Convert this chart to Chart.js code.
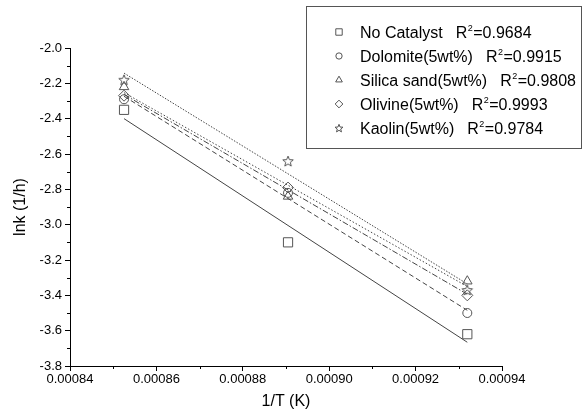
<!DOCTYPE html>
<html>
<head>
<meta charset="utf-8">
<script src="https://cdn.jsdelivr.net/npm/chart.js@4.4.1/dist/chart.umd.min.js"></script>
<style>
  html, body { margin: 0; padding: 0; background: #fff; }
</style>
</head>
<body>
<canvas id="chart" width="583" height="416"></canvas>
<script>
// 1/T for 1173, 1123, 1073 K
const invT = [0.00085251, 0.00089047, 0.00093197];

const seriesNames = ['No Catalyst', 'Dolomite(5wt%)', 'Silica sand(5wt%)', 'Olivine(5wt%)', 'Kaolin(5wt%)'];
const r2Values = ['0.9684', '0.9915', '0.9808', '0.9993', '0.9784'];

const noCatalyst = [-2.35, -3.10, -3.62];
const dolomite = [-2.29, -2.82, -3.50];
const silicaSand = [-2.22, -2.84, -3.32];
const olivine = [-2.27, -2.79, -3.40];
const kaolin = [-2.18, -2.64, -3.37];

const xTicks = [0.00084, 0.00086, 0.00088, 0.00090, 0.00092, 0.00094];
const yTicks = [-3.8, -3.6, -3.4, -3.2, -3.0, -2.8, -2.6, -2.4, -2.2, -2.0];

const allSeries = [noCatalyst, dolomite, silicaSand, olivine, kaolin];
const dashes = [[], [5, 3], [1.5, 2], [6, 2, 1.5, 2], [1.5, 1.5]];

const FONT = '"Liberation Sans", Arial, sans-serif';

// five point open star, drawn into a small canvas
const makeStar = (outer, inner) => {
    const s = Math.ceil(outer * 2 + 3);
    const c = document.createElement('canvas');
    c.width = s; c.height = s;
    const g = c.getContext('2d');
    g.strokeStyle = '#555'; g.lineWidth = 1;
    g.beginPath();
    for (let i = 0; i < 10; i++) {
        const r = i % 2 === 0 ? outer : inner;
        const a = -Math.PI / 2 + i * Math.PI / 5;
        const px = s / 2 + r * Math.cos(a), py = s / 2 + 0.5 + r * Math.sin(a);
        i === 0 ? g.moveTo(px, py) : g.lineTo(px, py);
    }
    g.closePath(); g.stroke();
    return c;
};
const starImg = makeStar(5.5, 2.4);
const starSmall = makeStar(4.2, 1.8);

const pointStyles = ['rect', 'circle', 'triangle', 'rectRot', starImg];
const pointSizes = [6.5, 4.5, 5.5, 5.5, 5];

// least squares fit through each series
const fit = (ys) => {
    const n = invT.length;
    const mx = invT.reduce((a, b) => a + b, 0) / n;
    const my = ys.reduce((a, b) => a + b, 0) / n;
    let sxy = 0, sxx = 0;
    invT.forEach((x, i) => { sxy += (x - mx) * (ys[i] - my); sxx += (x - mx) * (x - mx); });
    const k = sxy / sxx;
    return [invT[0], invT[n - 1]].map(x => ({ x: x, y: my + k * (x - mx) }));
};

const datasets = [];
allSeries.forEach((ys, i) => {
    datasets.push({
        data: fit(ys), showLine: true, pointRadius: 0,
        borderColor: '#444', borderWidth: 1, borderDash: dashes[i]
    });
});
allSeries.forEach((ys, i) => {
    datasets.push({
        label: seriesNames[i],
        data: ys.map((y, j) => ({ x: invT[j], y: y })),
        showLine: false, pointStyle: pointStyles[i], pointRadius: pointSizes[i],
        pointBorderColor: '#555', pointBackgroundColor: 'rgba(0,0,0,0)', pointBorderWidth: 1
    });
});

const minorTicks = {
    id: 'minorTicks',
    afterDraw(chart) {
        const ctx = chart.ctx, xs = chart.scales.x, ys = chart.scales.y;
        ctx.save();
        ctx.strokeStyle = '#000'; ctx.lineWidth = 1;
        ctx.beginPath();
        for (let i = 0; i < xTicks.length - 1; i++) {
            const px = Math.round(xs.getPixelForValue((xTicks[i] + xTicks[i + 1]) / 2)) + 0.5;
            ctx.moveTo(px, xs.top); ctx.lineTo(px, xs.top + 3);
        }
        for (let i = 0; i < yTicks.length - 1; i++) {
            const py = Math.round(ys.getPixelForValue((yTicks[i] + yTicks[i + 1]) / 2)) + 0.5;
            ctx.moveTo(ys.right, py); ctx.lineTo(ys.right - 3, py);
        }
        ctx.stroke();
        ctx.restore();
    }
};

const legendBox = {
    id: 'legendBox',
    afterDraw(chart) {
        const ctx = chart.ctx;
        ctx.save();
        ctx.fillStyle = '#fff';
        ctx.fillRect(306, 6, 275, 142);
        ctx.strokeStyle = '#555'; ctx.lineWidth = 1;
        ctx.strokeRect(306.5, 6.5, 275, 142);
        ctx.textBaseline = 'alphabetic';
        seriesNames.forEach((name, i) => {
            const y = 32 + i * 24;
            if (typeof pointStyles[i] === 'string') {
                ctx.strokeStyle = '#555'; ctx.lineWidth = 1;
                ctx.fillStyle = 'rgba(0,0,0,0)';
                Chart.helpers.drawPoint(ctx, { pointStyle: pointStyles[i], radius: pointSizes[i] * 0.7, rotation: 0, borderWidth: 1 }, 339, y);
            } else {
                ctx.drawImage(starSmall, 339 - starSmall.width / 2, y - starSmall.height / 2);
            }
            ctx.fillStyle = '#000';
            const base = y + 6;
            ctx.font = '16px ' + FONT;
            ctx.fillText(name, 360, base);
            let x = 360 + ctx.measureText(name).width + 13;
            ctx.fillText('R', x, base);
            x += ctx.measureText('R').width;
            ctx.font = '9px ' + FONT;
            ctx.fillText('2', x + 0.5, base - 7);
            x += ctx.measureText('2').width + 1;
            ctx.font = '16px ' + FONT;
            ctx.fillText('=' + r2Values[i], x, base);
        });
        ctx.restore();
    }
};

new Chart(document.getElementById('chart'), {
    type: 'scatter',
    data: { datasets: datasets },
    options: {
        responsive: false,
        animation: false,
        devicePixelRatio: 1,
        layout: { padding: { top: 48, right: 81, left: 7, bottom: 0 } },
        plugins: { legend: { display: false }, tooltip: { enabled: false } },
        scales: {
            x: {
                type: 'linear', min: 0.00084, max: 0.00094,
                afterBuildTicks: s => { s.ticks = xTicks.map(v => ({ value: v })); },
                afterFit: s => { s.height = 50; },
                ticks: { color: '#000', font: { family: 'Liberation Sans', size: 13 }, padding: 1,
                         maxRotation: 0, callback: v => v.toFixed(5) },
                grid: { drawOnChartArea: false, tickLength: 5, color: '#000' },
                border: { color: '#000', width: 1 },
                title: { display: true, text: '1/T (K)', color: '#000',
                         font: { family: 'Liberation Sans', size: 16 }, padding: { top: 0, bottom: 5 } }
            },
            y: {
                type: 'linear', min: -3.8, max: -2.0,
                afterBuildTicks: s => { s.ticks = yTicks.map(v => ({ value: v })); },
                afterFit: s => { s.width = 63; },
                ticks: { color: '#000', font: { family: 'Liberation Sans', size: 13 }, padding: 3,
                         callback: v => v.toFixed(1) },
                grid: { drawOnChartArea: false, tickLength: 5, color: '#000' },
                border: { color: '#000', width: 1 },
                title: { display: true, text: 'lnk (1/h)', color: '#000',
                         font: { family: 'Liberation Sans', size: 16 }, padding: { bottom: 4 } }
            }
        }
    },
    plugins: [minorTicks, legendBox]
});
</script>
</body>
</html>
